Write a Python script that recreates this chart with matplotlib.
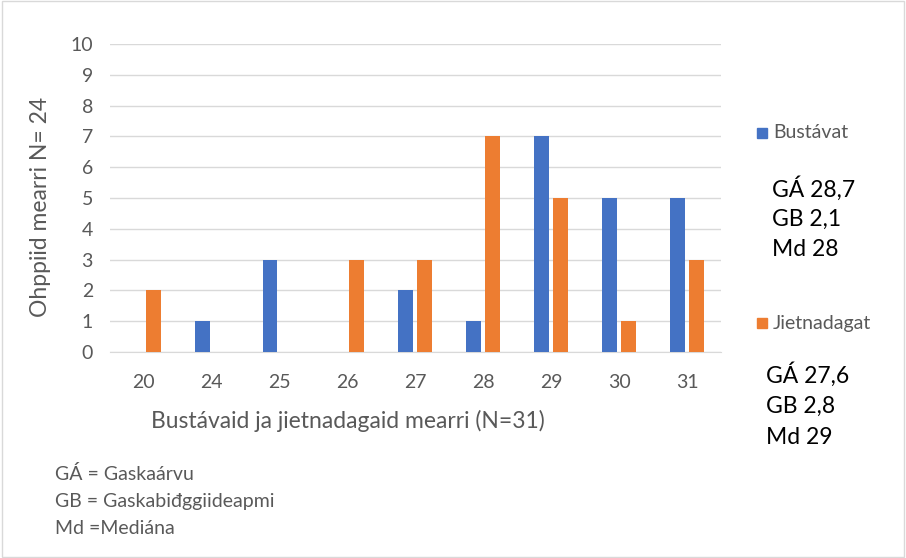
import numpy as np
import matplotlib.pyplot as plt
from matplotlib.patches import Rectangle

plt.rcParams['font.family'] = ['Lato', 'DejaVu Sans']

# data
categories = ['20', '24', '25', '26', '27', '28', '29', '30', '31']
bustavat = [0, 1, 3, 0, 2, 1, 7, 5, 5]
jietnadagat = [2, 0, 0, 3, 3, 7, 5, 1, 3]
stats_bustavat = ['GÁ 28,7', 'GB 2,1', 'Md 28']
stats_jietnadagat = ['GÁ 27,6', 'GB 2,8', 'Md 29']
footnote = ['GÁ = Gaskaárvu', 'GB = Gaskabiđggiideapmi', 'Md =Mediána']

blue = '#4472C4'
orange = '#ED7D31'
grey = '#595959'

fig = plt.figure(figsize=(9.06, 5.58), dpi=100)
ax = fig.add_axes([0.121, 0.369, 0.675, 0.552])

x = np.arange(len(categories))
w = 0.22
gap = 0.03
ax.bar(x - w / 2 - gap, bustavat, w, color=blue, zorder=3)
ax.bar(x + w / 2 + gap, jietnadagat, w, color=orange, zorder=3)

ax.set_xlim(-0.5, len(categories) - 0.5)
ax.set_ylim(0, 10)
ax.set_yticks(range(0, 11))
ax.set_xticks(x)
ax.set_xticklabels(categories)
ax.yaxis.grid(True, color='#D9D9D9', linewidth=1, zorder=0)
for s in ['top', 'right', 'left']:
    ax.spines[s].set_visible(False)
ax.spines['bottom'].set_color('#D9D9D9')
ax.tick_params(axis='both', length=0, labelsize=14, colors=grey)
ax.tick_params(axis='x', pad=16)
ax.tick_params(axis='y', pad=12)

ax.set_xlabel('Bustávaid ja jietnadagaid mearri (N=31)', fontsize=16.5, color=grey)
ax.xaxis.set_label_coords(0.39, -0.188)
ax.set_ylabel('Ohppiid mearri N= 24', fontsize=16.5, color=grey)
ax.yaxis.set_label_coords(-0.096, 0.47)

# legend entries with stats, placed by hand like the original
fig.add_artist(Rectangle((757 / 906, 1 - 138 / 558), 10 / 906, 10 / 558,
                         transform=fig.transFigure, color=blue))
fig.text(773 / 906, 1 - 133 / 558, 'Bustávat', fontsize=14, color=grey, va='center')
for i, t in enumerate(stats_bustavat):
    fig.text(772 / 906, 1 - (189 + i * 30) / 558, t, fontsize=16.5, color='black', va='center')

fig.add_artist(Rectangle((757 / 906, 1 - 328 / 558), 10 / 906, 10 / 558,
                         transform=fig.transFigure, color=orange))
fig.text(773 / 906, 1 - 323 / 558, 'Jietnadagat', fontsize=14, color=grey, va='center')
for i, t in enumerate(stats_jietnadagat):
    fig.text(766 / 906, 1 - (375 + i * 31) / 558, t, fontsize=16.5, color='black', va='center')

for i, t in enumerate(footnote):
    fig.text(55 / 906, 1 - (474 + i * 27) / 558, t, fontsize=14, color=grey, va='center')

# chart border
fig.add_artist(Rectangle((0.002, 0.002), 0.996, 0.996, transform=fig.transFigure,
                         fill=False, edgecolor='#D9D9D9', linewidth=1))

fig.savefig('out.png', dpi=100)
